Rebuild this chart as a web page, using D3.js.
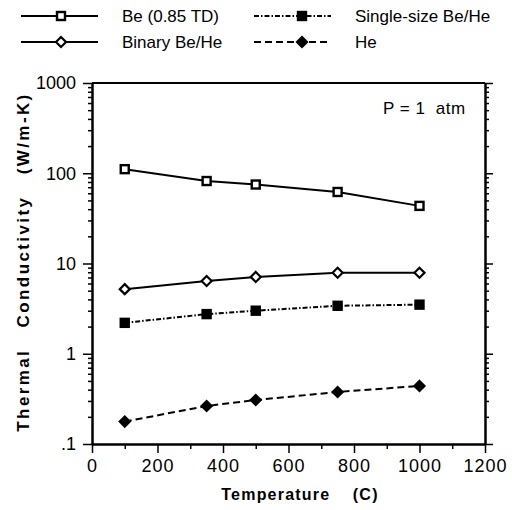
<!DOCTYPE html>
<html>
<head>
<meta charset="utf-8">
<script src="https://cdn.jsdelivr.net/npm/d3@7"></script>
<style>
  body { margin: 0; background: #fff; }
  svg { font-family: "Liberation Sans", Arial, sans-serif; }
  .tick line { stroke: #000; stroke-width: 1.5; }
  .domain { stroke: #000; stroke-width: 2; }
</style>
</head>
<body>
<svg width="512" height="510"></svg>
<script>
// data
const temps = [100, 350, 500, 750, 1000]
const beTD = [111, 82, 75, 62, 43.5]
const binary = [5.2, 6.4, 7.1, 7.9, 7.9]
const single = [2.2, 2.75, 3.0, 3.4, 3.5]
const helium = [0.177, 0.264, 0.307, 0.377, 0.44]

const xTicks = [0, 200, 400, 600, 800, 1000, 1200]
const xMinor = [100, 300, 500, 700, 900, 1100]
const yTicks = [0.1, 1, 10, 100, 1000]
const yTickLabels = [".1", "1", "10", "100", "1000"]

const series = [
  {name: "Be (0.85 TD)", values: beTD, dash: null, marker: "square", fill: "#fff"},
  {name: "Single-size Be/He", values: single, dash: "5,2,1.5,2", marker: "square", fill: "#000"},
  {name: "Binary Be/He", values: binary, dash: null, marker: "diamond", fill: "#fff"},
  {name: "He", values: helium, dash: "7,4", marker: "diamond", fill: "#000"}
]

const svg = d3.select("svg")
const x = d3.scaleLinear().domain([0, 1200]).range([92, 485])
const y = d3.scaleLog().domain([0.1, 1000]).range([444, 83])

let yMinor = []
for (let d = 0.1; d < 1000; d *= 10)
  for (let k = 2; k <= 9; k++) yMinor.push(+(d * k).toPrecision(3))

// frame top
svg.append("line")
  .attr("x1", x(0)).attr("x2", x(1200))
  .attr("y1", y(1000)).attr("y2", y(1000))
  .attr("stroke", "#000").attr("stroke-width", 2)

// bottom axis
svg.append("g")
  .attr("transform", `translate(0,${y(0.1)})`)
  .call(d3.axisBottom(x).tickValues(xMinor).tickSize(5).tickSizeOuter(0).tickFormat(""))
svg.append("g")
  .attr("transform", `translate(0,${y(0.1)})`)
  .call(d3.axisBottom(x).tickValues(xTicks).tickSize(9).tickSizeOuter(0).tickPadding(6).tickFormat(d3.format("d")))
  .call(g => g.selectAll("text").attr("font-size", 18).attr("letter-spacing", 1).attr("fill", "#000").attr("font-family", "Liberation Sans, Arial"))

// left axis
svg.append("g")
  .attr("transform", `translate(${x(0)},0)`)
  .call(d3.axisLeft(y).tickValues(yMinor).tickSize(4).tickSizeOuter(0).tickFormat(""))
svg.append("g")
  .attr("transform", `translate(${x(0)},0)`)
  .call(d3.axisLeft(y).tickValues(yTicks).tickSize(9).tickSizeOuter(0).tickPadding(7)
    .tickFormat((d, i) => yTickLabels[i]))
  .call(g => g.selectAll("text").attr("font-size", 18).attr("fill", "#000").attr("font-family", "Liberation Sans, Arial"))

// right axis
svg.append("g")
  .attr("transform", `translate(${x(1200)},0)`)
  .call(d3.axisRight(y).tickValues(yMinor).tickSize(4).tickSizeOuter(0).tickFormat(""))
svg.append("g")
  .attr("transform", `translate(${x(1200)},0)`)
  .call(d3.axisRight(y).tickValues(yTicks).tickSize(8).tickSizeOuter(0).tickFormat(""))

// axis titles
svg.append("text")
  .attr("x", 300).attr("y", 500)
  .attr("text-anchor", "middle")
  .attr("font-size", 16).attr("font-weight", "bold").attr("letter-spacing", 1.2)
  .attr("xml:space", "preserve")
  .text("Temperature    (C)")

svg.append("text")
  .attr("transform", "translate(29,262) rotate(-90)")
  .attr("text-anchor", "middle")
  .attr("font-size", 17).attr("font-weight", "bold").attr("letter-spacing", 2.4)
  .attr("xml:space", "preserve")
  .text("Thermal   Conductivity   (W/m-K)")

svg.append("text")
  .attr("x", 383).attr("y", 114)
  .attr("font-size", 17).attr("letter-spacing", 0.5)
  .attr("xml:space", "preserve")
  .text("P = 1  atm")

const drawMarker = (sel, s) => {
  if (s.marker === "square") {
    sel.append("rect")
      .attr("x", -4).attr("y", -4).attr("width", 8).attr("height", 8)
      .attr("fill", s.fill).attr("stroke", "#000").attr("stroke-width", 2.4)
  } else {
    sel.append("path")
      .attr("d", "M0,-5L5,0L0,5L-5,0Z")
      .attr("fill", s.fill).attr("stroke", "#000").attr("stroke-width", 2.2)
  }
}

const line = d3.line().x(d => x(d[0])).y(d => y(d[1]))

series.forEach(s => {
  const pts = temps.map((t, i) => [t, s.values[i]])
  svg.append("path")
    .datum(pts)
    .attr("d", line)
    .attr("fill", "none").attr("stroke", "#000").attr("stroke-width", 2)
    .attr("stroke-dasharray", s.dash)
  pts.forEach(p => {
    const g = svg.append("g").attr("transform", `translate(${x(p[0])},${y(p[1])})`)
    drawMarker(g, s)
  })
})

// legend
const legendPos = [[21, 16], [254, 16], [21, 42], [254, 42]]
series.forEach((s, i) => {
  const [lx, ly] = legendPos[i]
  const g = svg.append("g").attr("transform", `translate(${lx},${ly})`)
  g.append("line")
    .attr("x1", 0).attr("x2", 77).attr("y1", 0).attr("y2", 0)
    .attr("stroke", "#000").attr("stroke-width", 1.8)
    .attr("stroke-dasharray", s.dash)
  drawMarker(g.append("g").attr("transform", `translate(${i % 2 ? 48 : 40},0)`), s)
  g.append("text")
    .attr("x", 101).attr("y", 6)
    .attr("font-size", 17)
    .text(s.name)
})
</script>
</body>
</html>
